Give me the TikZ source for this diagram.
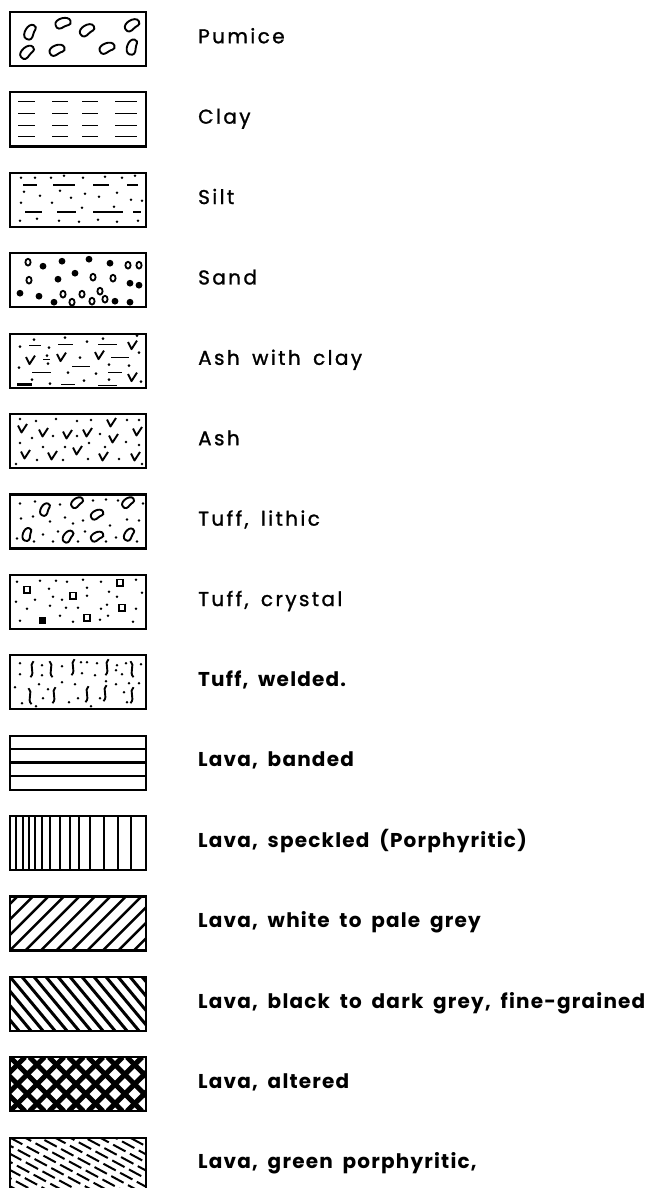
\documentclass[tikz,border=0pt]{standalone}
\usepackage{fontspec}
\setmainfont{Poppins}[LetterSpace=6,WordSpace=1.8]
\newfontfamily\lblfont{Poppins}[LetterSpace=12,WordSpace=1.6,FakeBold=1.2]
\usetikzlibrary{positioning}

\begin{document}
\begin{tikzpicture}[x=1pt,y=-1pt,
    legbox/.style={draw,line width=2.2pt,minimum width=136pt,minimum height=54pt,
                   inner sep=0pt,outer sep=0pt},
    lbl/.style={inner sep=0pt,font=\lblfont\fontsize{20}{22}\selectfont},
    lblb/.style={inner sep=0pt,font=\fontsize{20}{22}\selectfont\bfseries},
    fine/.style={line width=1.6pt},
    hatch/.style={line width=2.5pt},
    bean/.pic={\draw[line width=1.9pt] (-6,0) .. controls (-6,-5) and (6,-5) .. (6,0)
                 .. controls (6,4) and (2,2) .. (0,3) .. controls (-3,4) and (-6,4) .. (-6,0);},
    vee/.pic={\draw[line width=1.9pt,line join=round] (-4,-3.5) -- (-0.5,3.5) -- (5,-5);},
    sq/.pic={\draw[line width=1.8pt] (-3.3,-3.3) rectangle (3.3,3.3);},
    wave/.pic={\draw[line width=1.9pt] (1.5,-8) .. controls (-3.5,-4) and (3.5,3) .. (-1.5,8);}
  ]
  \useasboundingbox (0,0) rectangle (645,1188);

  \foreach \n/\t/\s [count=\i from 0] in {
    pum/{Pumice}/lbl,
    clay/{Clay}/lbl,
    silt/{Silt}/lbl,
    sand/{Sand}/lbl,
    ashc/{Ash with clay}/lbl,
    ash/{Ash}/lbl,
    tufl/{Tuff, lithic}/lbl,
    tufc/{Tuff, crystal}/lbl,
    tufw/{Tuff, welded.}/lblb,
    lavb/{Lava, banded}/lblb,
    lavs/{Lava, speckled (Porphyritic)}/lblb,
    lavw/{Lava, white to pale grey}/lblb,
    lavk/{Lava, black to dark grey, fine-grained}/lblb,
    lava/{Lava, altered}/lblb,
    lavg/{Lava, green porphyritic,}/lblb}{
    \node[legbox] (\n) at (78,{39+80.4*\i}) {};
    \node[style=\s,right=52pt of \n.east,anchor=mid west,yshift=-1.5pt] (\n-t) {\t};
  }

  % pumice
  \begin{scope}[shift={(pum.north west)}]
    \clip (0,0) rectangle (136,54);
    \foreach \p/\a in {(20,20)/60,(53,11)/15,(77,18)/30,(122,13)/30,
                       (17,40)/40,(47,38)/20,(97,36)/20,(122,35)/70}
      \pic[rotate=\a,scale=1.3] at \p {bean};
  \end{scope}

  % clay
  \begin{scope}[shift={(clay.north west)}]
    \foreach \y in {9,21,33,44}
      \foreach \a/\b in {8/25,42/58,72/88,105/127}
        \draw[fine] (\a,\y) -- (\b,\y);
  \end{scope}

  % silt
  \begin{scope}[shift={(silt.north west)}]
    \foreach \a/\b in {13/27,43/65,83/99,117/128} \draw[fine] (\a,12) -- (\b,12);
    \foreach \a/\b in {15/32,47/66,83/113,123/131} \draw[fine] (\a,39) -- (\b,39);
    \foreach \p in {(11,5),(25,5),(41,5),(54,3),(73,5),(95,4),(112,5),(125,3),
                    (14,19),(30,23),(50,18),(75,21),(89,24),(107,20),(121,27),(132,28),
                    (11,30),(42,30),(61,25),(72,35),(104,34),
                    (10,48),(27,46),(49,48),(69,49),(88,47),(107,49),(128,48)}
      \fill \p circle (1.4pt);
  \end{scope}

  % sand
  \begin{scope}[shift={(sand.north west)}]
    \clip (0,0) rectangle (136,54);
    \foreach \p in {(33,13),(52,8),(79,6),(100,10),(48,26),(65,20),(120,30),(129,32),
                    (10,40),(29,43),(44,49),(105,48),(120,49)}
      \fill \p circle (3.4pt);
    \foreach \p in {(18,9),(118,12),(129,12),(19,27),(83,24),(103,25),(53,41),(72,41),
                    (90,38),(62,49),(82,48),(95,46)}
      \draw[line width=1.8pt] \p ellipse [x radius=2.6pt,y radius=3.4pt];
  \end{scope}

  % ash with clay
  \begin{scope}[shift={(ashc.north west)}]
    \foreach \a/\b/\y in {19/31/12,48/63/11,88/107/11,101/119/24,62/80/33,22/41/39,
                          98/112/39,51/65/51,88/107/52,33/40/26}
      \draw[fine] (\a,\y) -- (\b,\y);
    \draw[line width=2.4pt] (7,51) -- (22,51);
    \foreach \p in {(10,13),(24,6),(39,14),(55,4),(77,8),(93,5),(127,2),(129,19),
                    (9,34),(38,30),(70,24),(99,31),(119,32),(22,46),(40,50),
                    (58,39),(86,40),(74,47),(99,46),(131,48),(37,22)}
      \fill \p circle (1.4pt);
    \foreach \p in {(122,12),(20,27),(51,24),(89,22),(122,44)}
      \pic at \p {vee};
  \end{scope}

  % ash
  \begin{scope}[shift={(ash.north west)}]
    \foreach \p in {(12,15),(33,19),(57,21),(77,19),(101,9),(103,25),(127,18),
                    (15,41),(42,42),(67,37),(93,43),(125,43)}
      \pic at \p {vee};
    \foreach \p in {(10,5),(26,7),(46,5),(67,7),(81,6),(117,6),(129,6),
                    (22,24),(43,22),(67,22),(90,20),(116,28),(10,29),(33,33),
                    (55,33),(79,29),(95,33),(129,31),(27,46),(53,46),(78,45),
                    (109,45),(6,50),(132,50)}
      \fill \p circle (1.4pt);
  \end{scope}

  % tuff, lithic
  \begin{scope}[shift={(tufl.north west)}]
    \clip (0,0) rectangle (136,54);
    \foreach \p/\a in {(35,15)/60,(67,8)/35,(87,20)/25,(118,8)/35,
                       (17,40)/70,(58,42)/50,(87,42)/25,(119,40)/55}
      \pic[rotate=\a,scale=1.1] at \p {bean};
    \foreach \p in {(10,9),(25,7),(50,10),(83,6),(96,5),(108,6),(133,9),
                    (11,24),(23,22),(40,27),(55,23),(63,29),(73,26),(100,31),
                    (117,25),(129,26),(33,40),(48,37),(75,37),(106,43),
                    (7,44),(24,47),(43,47),(68,47),(96,47),(127,47)}
      \fill \p circle (1.4pt);
  \end{scope}

  % tuff, crystal
  \begin{scope}[shift={(tufc.north west)}]
    \clip (0,0) rectangle (136,54);
    \foreach \p in {(17,15),(63,21),(110,8),(112,33),(77,43)}
      \pic at \p {sq};
    \fill (29,42) rectangle (36,49);
    \foreach \p in {(7,7),(30,6),(46,6),(57,7),(73,5),(91,7),(126,5),(39,14),
                    (25,25),(43,22),(52,25),(77,13),(77,21),(99,17),(107,22),
                    (132,18),(6,27),(17,34),(40,31),(56,33),(68,33),(91,34),
                    (97,30),(126,34),(10,46),(50,41),(63,47),(90,45),(98,41),(123,47)}
      \fill \p circle (1.4pt);
  \end{scope}

  % tuff, welded
  \begin{scope}[shift={(tufw.north west)}]
    \clip (0,0) rectangle (136,54);
    \foreach \p/\m in {(22,14)/1,(41,14)/-1,(63,12)/1,(97,12)/1,(122,14)/-1,
                       (20,41)/-1,(44,40)/1,(77,39)/1,(95,38)/1,(122,40)/1}
      \pic[xscale=\m] at \p {wave};
    \foreach \p in {(10,8),(32,10),(52,11),(71,7),(77,7),(87,8),(107,10),(116,8),
                    (131,9),(10,19),(32,20),(72,18),(85,20),(106,15),(112,19),
                    (5,32),(29,29),(52,27),(65,29),(96,26),(106,29),(119,28),
                    (129,28),(12,48),(33,43),(59,47),(68,43),(90,43),(114,37),
                    (117,47),(38,34),(81,51),(26,51)}
      \fill \p circle (1.4pt);
  \end{scope}

  % lava, banded
  \begin{scope}[shift={(lavb.north west)}]
    \foreach \y in {13.5,27,40.5} \draw[hatch] (0,\y) -- (136,\y);
  \end{scope}

  % lava, speckled
  \begin{scope}[shift={(lavs.north west)}]
    \foreach \x in {6,13,19,25,32,40,50,60,69,80,94,108,121}
      \draw[hatch] (\x,0) -- (\x,54);
  \end{scope}

  % lava, white
  \begin{scope}[shift={(lavw.north west)}]
    \clip (0,0) rectangle (136,54);
    \foreach \k in {-4,...,9} \draw[hatch] ({\k*15.5},54) -- ++(54,-54);
  \end{scope}

  % lava, black
  \begin{scope}[shift={(lavk.north west)}]
    \clip (0,0) rectangle (136,54);
    \foreach \k in {-5,...,12} \draw[line width=3pt] ({\k*12},0) -- ++(45,54);
  \end{scope}

  % lava, altered
  \begin{scope}[shift={(lava.north west)}]
    \clip (0,0) rectangle (136,54);
    \foreach \k in {-3,...,10}{
      \draw[line width=5pt] ({\k*19.5},0) -- ++(54,54);
      \draw[line width=5pt] ({\k*19.5},54) -- ++(54,-54);
    }
  \end{scope}

  % lava, green
  \begin{scope}[shift={(lavg.north west)}]
    \clip (0,0) rectangle (136,54);
    \foreach \k in {-8,...,9}
      \draw[line width=2pt,dash pattern=on 14pt off 5pt,dash phase={\k*7}]
        ({\k*15},0) -- ++(100,54);
  \end{scope}
\end{tikzpicture}
\end{document}
